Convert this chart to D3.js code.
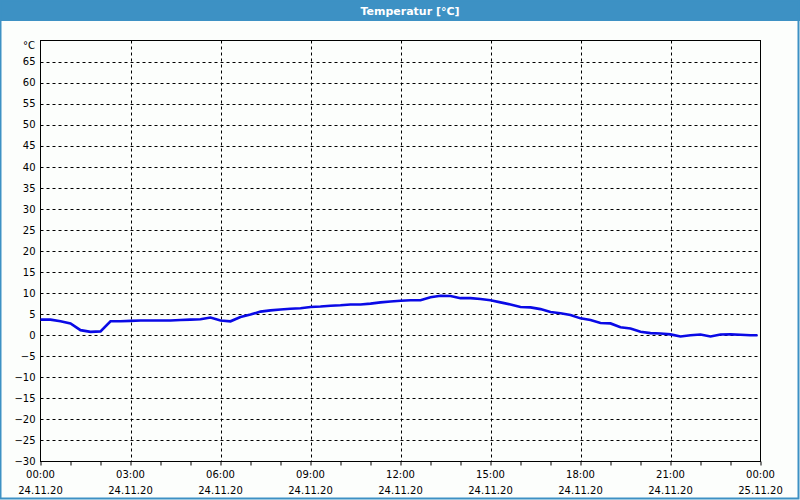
<!DOCTYPE html>
<html>
<head>
<meta charset="utf-8">
<script src="https://cdn.jsdelivr.net/npm/d3@7"></script>
<style>
  body { margin: 0; background: #fcfefc; }
  svg { display: block; }
</style>
</head>
<body>
<svg></svg>
<script>
// data (minutes since 24.11.20 00:00, °C)
let minutes = [0, 20, 40, 60, 80, 100, 120, 140, 160, 180, 200, 220, 240, 260, 280, 300, 320, 340,
  360, 380, 400, 420, 440, 460, 480, 500, 520, 540, 560, 580, 600, 620, 640, 660, 680, 700,
  720, 740, 760, 780, 800, 820, 840, 860, 880, 900, 920, 940, 960, 980, 1000, 1020, 1040, 1060,
  1080, 1100, 1120, 1140, 1160, 1180, 1200, 1220, 1240, 1260, 1280, 1300, 1320, 1340, 1360, 1380,
  1400, 1420, 1434]
let temps = [3.7, 3.7, 3.3, 2.8, 1.2, 0.8, 0.9, 3.3, 3.3, 3.4, 3.5, 3.5, 3.5, 3.5, 3.6, 3.7, 3.8, 4.2,
  3.5, 3.3, 4.3, 4.9, 5.6, 5.9, 6.1, 6.3, 6.4, 6.7, 6.8, 7.0, 7.1, 7.3, 7.3, 7.5, 7.8, 8.0,
  8.2, 8.3, 8.3, 9.0, 9.35, 9.3, 8.8, 8.8, 8.6, 8.3, 7.8, 7.3, 6.7, 6.6, 6.2, 5.5, 5.2, 4.8,
  4.0, 3.6, 2.9, 2.8, 1.9, 1.6, 0.8, 0.5, 0.4, 0.2, -0.3, 0.0, 0.15, -0.3, 0.15, 0.2,
  0.1, 0.0, 0.0]

let yTicks = d3.range(-30, 70, 5)
let xTickTimes = ['00:00', '03:00', '06:00', '09:00', '12:00', '15:00', '18:00', '21:00', '00:00']
let xTickDates = ['24.11.20', '24.11.20', '24.11.20', '24.11.20', '24.11.20', '24.11.20', '24.11.20', '24.11.20', '25.11.20']

let width = 800
let height = 500
let plotLeft = 40.5, plotRight = 760.5, plotTop = 40.5, plotBottom = 461.5

let svg = d3.select('svg').attr('width', width).attr('height', height)
  .style('font-family', '"DejaVu Sans", sans-serif')

// window frame + title bar
svg.append('rect').attr('x', 0).attr('y', 0).attr('width', width).attr('height', height)
  .attr('fill', '#fcfefc')
svg.append('rect').attr('x', 0).attr('y', 0).attr('width', width).attr('height', 21)
  .attr('fill', '#3d91c4')
svg.append('rect').attr('x', 0.5).attr('y', 0.5).attr('width', width - 2).attr('height', height - 2)
  .attr('fill', 'none').attr('stroke', '#3d91c4').attr('stroke-width', 2)
svg.append('text').attr('x', 410).attr('y', 14.5)
  .attr('text-anchor', 'middle').attr('fill', '#fff')
  .style('font-size', '11px').style('font-weight', 'bold')
  .text('Temperatur [°C]')

let xScale = d3.scaleLinear().domain([0, 1440]).range([plotLeft, plotRight])
let yScale = d3.scaleLinear().domain([-30, 70]).range([plotBottom, plotTop])

// grid
let grid = svg.append('g')
grid.selectAll('.hgrid')
  .data(yTicks.filter(d => d > -30))
  .enter().append('line')
  .attr('x1', plotLeft).attr('x2', plotRight)
  .attr('y1', d => Math.round(yScale(d)) + 0.5).attr('y2', d => Math.round(yScale(d)) + 0.5)
  .attr('stroke', '#000').attr('stroke-dasharray', '3,3')
grid.selectAll('.vgrid')
  .data(d3.range(180, 1440, 180))
  .enter().append('line')
  .attr('x1', d => Math.round(xScale(d)) + 0.5).attr('x2', d => Math.round(xScale(d)) + 0.5)
  .attr('y1', plotTop).attr('y2', plotBottom)
  .attr('stroke', '#000').attr('stroke-dasharray', '3,3')

// y axis labels
let yAxis = d3.axisLeft(yScale).tickValues(yTicks).tickSize(0).tickPadding(5)
let gy = svg.append('g').attr('transform', 'translate(' + plotLeft + ',0)').call(yAxis)
gy.select('.domain').remove()
gy.selectAll('text').style('font-size', '10px').attr('fill', '#000')
  .style('font-family', '"DejaVu Sans", sans-serif')
svg.append('text').attr('x', 35).attr('y', 49).attr('text-anchor', 'end')
  .style('font-size', '10px').text('°C')

// x axis: hourly ticks, labels every 3 h
let xAxis = d3.axisBottom(xScale).tickValues(d3.range(0, 1441, 60)).tickSize(4).tickFormat('')
let gx = svg.append('g').attr('transform', 'translate(0,' + plotBottom + ')').call(xAxis)
gx.select('.domain').remove()
gx.selectAll('line').attr('stroke', '#000')

let labelPos = d3.range(0, 1441, 180)
svg.selectAll('.xtime').data(labelPos).enter().append('text')
  .attr('x', d => xScale(d)).attr('y', 478).attr('text-anchor', 'middle')
  .style('font-size', '10px').text((d, i) => xTickTimes[i])
svg.selectAll('.xdate').data(labelPos).enter().append('text')
  .attr('x', d => xScale(d)).attr('y', 494).attr('text-anchor', 'middle')
  .style('font-size', '10px').text((d, i) => xTickDates[i])

// plot frame
svg.append('rect').attr('x', plotLeft).attr('y', plotTop)
  .attr('width', plotRight - plotLeft).attr('height', plotBottom - plotTop)
  .attr('fill', 'none').attr('stroke', '#000')

// temperature line
let line = d3.line().x(d => xScale(d[0])).y(d => yScale(d[1]))
svg.append('path')
  .datum(minutes.map((m, i) => [m, temps[i]]))
  .attr('d', line)
  .attr('fill', 'none').attr('stroke', '#0a0ae6').attr('stroke-width', 2.6)
</script>
</body>
</html>
